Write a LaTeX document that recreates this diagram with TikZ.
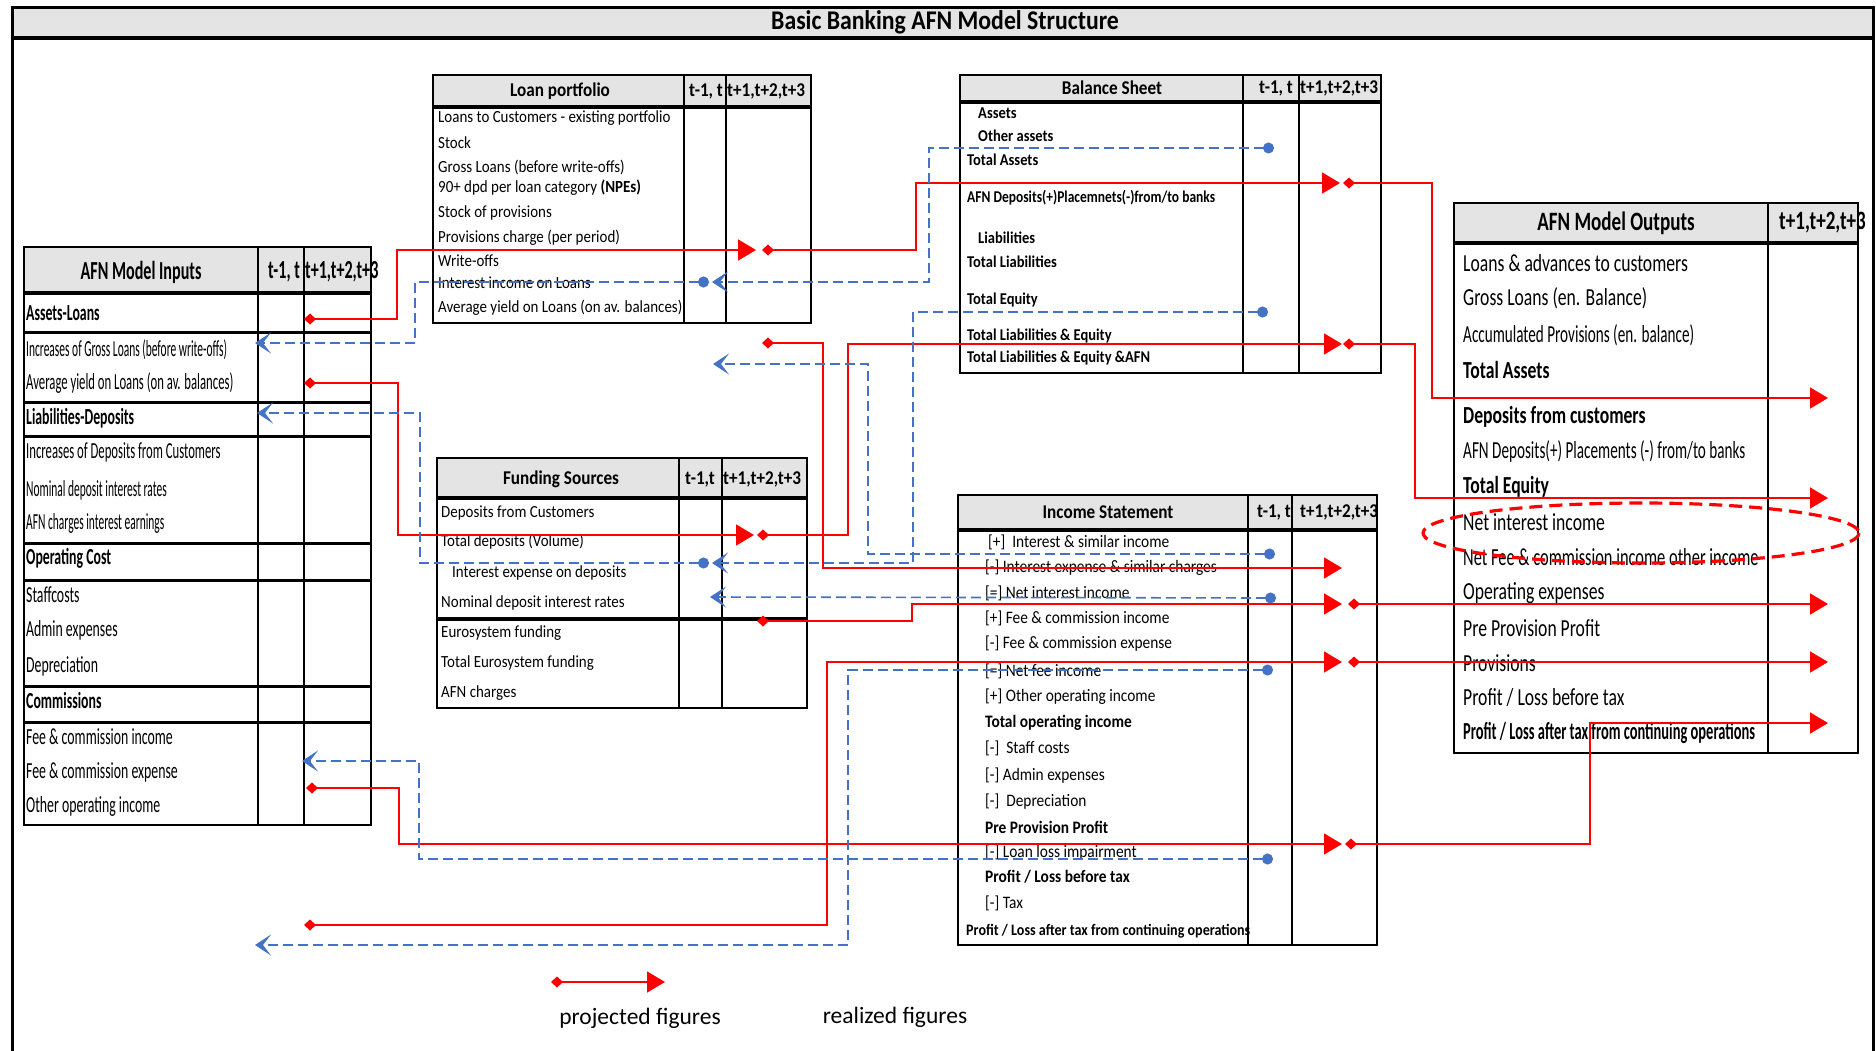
\documentclass[tikz,border=0pt]{standalone}
\usepackage{fontspec}
\setmainfont{Carlito}
\newfontfamily\tabfont[FakeStretch=0.88]{Carlito}
\newfontfamily\infont[FakeStretch=0.6]{Carlito}
\newfontfamily\inhfont[FakeStretch=0.62]{Carlito}
\newfontfamily\outfont[FakeStretch=0.72]{Carlito}
\usetikzlibrary{arrows.meta}
\definecolor{projred}{RGB}{255,0,0}
\definecolor{realblue}{RGB}{68,114,196}
\definecolor{hdrgray}{RGB}{228,228,228}

\begin{document}
\begin{tikzpicture}[
			x=1pt, y=-1pt,
			tbl/.style={draw, line width=2.6pt},
			sep/.style={line width=3pt},
			colline/.style={line width=2.3pt},
			hd/.style={inner sep=0pt, font=\tabfont\bfseries\fontsize{19.5}{20}\selectfont},
			tcol/.style={hd, anchor=west},
			item/.style={anchor=west, inner sep=0pt, font=\tabfont\fontsize{17}{18}\selectfont},
			isitem/.style={item, font=\tabfont\fontsize{17.5}{18}\selectfont},
			isbold/.style={item, font=\tabfont\bfseries\fontsize{17.5}{18}\selectfont},
			bsitem/.style={item, font=\tabfont\bfseries\fontsize{16.5}{17}\selectfont},
			initem/.style={item, font=\infont\fontsize{23}{24}\selectfont},
			inbold/.style={item, font=\infont\bfseries\fontsize{23}{24}\selectfont},
			inhd/.style={inner sep=0pt, font=\inhfont\bfseries\fontsize{26}{26}\selectfont},
			outitem/.style={item, font=\outfont\fontsize{24.5}{25}\selectfont},
			outbold/.style={item, font=\outfont\bfseries\fontsize{24.5}{25}\selectfont},
			outhd/.style={inner sep=0pt, font=\outfont\bfseries\fontsize{26.5}{27}\selectfont},
			proj/.style={projred, line width=1.6pt,
					{Diamond[length=12pt,width=11pt]}-{Triangle[length=18pt,width=21pt]}},
			real/.style={realblue, line width=1.6pt, dash pattern=on 10pt off 5pt,
					{Circle[length=11pt]}-{Stealth[length=16pt,width=21pt,inset=8pt]}}
		]
		\useasboundingbox (0,0) rectangle (1876,1050);

		% frame and title
		\fill[hdrgray] (12,7) rectangle (1873,38);
		\draw[line width=3pt] (12,1052) -- (12,7) -- (1873,7) -- (1873,1052);
		\draw[line width=4pt] (12,38) -- (1873,38);
		\node[inner sep=0pt, font=\tabfont\bfseries\fontsize{27}{27}\selectfont] (title) at (945,22)
		{Basic Banking AFN Model Structure};

		% AFN Model Inputs
		\fill[hdrgray] (24,247) rectangle (371,293);
		\draw[tbl] (24,247) rectangle (371,825);
		\draw[line width=4pt] (24,293) -- (371,293);
		\draw[sep] (24,332) -- (371,332) (24,402) -- (371,402) (24,436) -- (371,436)
		(24,543) -- (371,543) (24,580) -- (371,580) (24,686) -- (371,686) (24,722) -- (371,722);
		\draw[colline] (258,247) -- (258,825) (304,247) -- (304,825);
		\node[inhd] (inHead) at (141,272) {AFN Model Inputs};
		\node[inhd, anchor=west] (inT0) at (268,272) {t-1, t};
		\node[inhd, anchor=west] (inT1) at (305,272) {t+1,t+2,t+3};
		\node[inbold] (inLoansTxt) at (26,313) {Assets-Loans};
		\node[initem] (inGrossTxt) at (26,350) {\scalebox{0.83}[1]{Increases of Gross Loans (before write-offs)}};
		\node[initem] (inYieldTxt) at (26,383) {\scalebox{0.92}[1]{Average yield on Loans (on av. balances)}};
		\node[inbold] (inLiabTxt) at (26,418) {Liabilities-Deposits};
		\node[initem] (inDepTxt) at (26,452) {\scalebox{0.92}[1]{Increases of Deposits from Customers}};
		\node[initem] (inRateTxt) at (26,490) {\scalebox{0.83}[1]{Nominal deposit interest rates}};
		\node[initem] (inAfnTxt) at (26,523) {\scalebox{0.83}[1]{AFN charges interest earnings}};
		\node[inbold] (inOpTxt) at (26,558) {Operating Cost};
		\node[initem] (inStaffTxt) at (26,595) {Staffcosts};
		\node[initem] (inAdminTxt) at (26,630) {Admin expenses};
		\node[initem] (inDeprTxt) at (26,666) {Depreciation};
		\node[inbold] (inComTxt) at (26,701) {Commissions};
		\node[initem] (inFeeIncTxt) at (26,737) {Fee \& commission income};
		\node[initem] (inFeeExpTxt) at (26,772) {Fee \& commission expense};
		\node[initem] (inOtherTxt) at (26,806) {Other operating income};

		% Loan portfolio
		\fill[hdrgray] (433,75) rectangle (811,107);
		\draw[tbl] (433,75) rectangle (811,323);
		\draw[line width=4pt] (433,107) -- (811,107);
		\draw[colline] (684,75) -- (684,323) (726,75) -- (726,323);
		\node[hd] (lpHead) at (560,91) {Loan portfolio};
		\node[tcol] (lpT0) at (689,91) {t-1, t};
		\node[tcol] (lpT1) at (727,91) {t+1,t+2,t+3};
		\node[item] (lpExist) at (438,118) {Loans to Customers - existing portfolio};
		\node[item] (lpStock) at (438,143) {Stock};
		\node[item] (lpGross) at (438,167) {Gross Loans (before write-offs)};
		\node[item] (lpNpe) at (438,188) {90+ dpd per loan category \textbf{(NPEs)}};
		\node[item] (lpProvStock) at (438,213) {Stock of provisions};
		\node[item] (lpProvCharge) at (438,238) {Provisions charge (per period)};
		\node[item] (lpWrite) at (438,261) {Write-offs};
		\node[item] (lpInt) at (438,283) {Interest income on Loans};
		\node[item] (lpYield) at (438,308) {Average yield on Loans (on av. balances)};

		% Funding Sources
		\fill[hdrgray] (437,458) rectangle (807,498);
		\draw[tbl] (437,458) rectangle (807,708);
		\draw[line width=4pt] (437,498) -- (807,498);
		\draw[line width=3.5pt] (437,619) -- (807,619);
		\draw[colline] (679,458) -- (679,708) (722,458) -- (722,708);
		\node[hd] (fsHead) at (561,479) {Funding Sources};
		\node[tcol] (fsT0) at (685,479) {t-1,t};
		\node[tcol] (fsT1) at (723,479) {t+1,t+2,t+3};
		\node[item] (fsDep) at (441,513) {Deposits from Customers};
		\node[item] (fsTot) at (441,542) {Total deposits (Volume)};
		\node[item] (fsInt) at (452,573) {Interest expense on deposits};
		\node[item] (fsNom) at (441,603) {Nominal deposit interest rates};
		\node[item] (fsEuro) at (441,633) {Eurosystem funding};
		\node[item] (fsEuroTot) at (441,663) {Total Eurosystem funding};
		\node[item] (fsAfn) at (441,693) {AFN charges};

		% Balance Sheet
		\fill[hdrgray] (960,75) rectangle (1381,102);
		\draw[tbl] (960,75) rectangle (1381,373);
		\draw[line width=4pt] (960,102) -- (1381,102);
		\draw[colline] (1243,75) -- (1243,373) (1299,75) -- (1299,373);
		\node[hd] (bsHead) at (1112,88) {Balance Sheet};
		\node[tcol] (bsT0) at (1259,88) {t-1, t};
		\node[tcol] (bsT1) at (1300,88) {t+1,t+2,t+3};
		\node[bsitem] (bsAssets) at (978,113) {Assets};
		\node[bsitem] (bsOther) at (978,136) {Other assets};
		\node[bsitem] (bsTotA) at (967,160) {Total Assets};
		\node[bsitem] (bsAfn) at (967,198) {\scalebox{0.93}[1]{AFN Deposits(+)Placemnets(-)from/to banks}};
		\node[bsitem] (bsLiab) at (978,238) {Liabilities};
		\node[bsitem] (bsTotL) at (967,262) {Total Liabilities};
		\node[bsitem] (bsTotE) at (967,300) {Total Equity};
		\node[bsitem] (bsTotLE) at (967,336) {Total Liabilities \& Equity};
		\node[bsitem] (bsTotLEA) at (967,358) {Total Liabilities \& Equity \&AFN};

		% Income Statement
		\fill[hdrgray] (958,495) rectangle (1377,530);
		\draw[tbl] (958,495) rectangle (1377,945);
		\draw[line width=4pt] (958,530) -- (1377,530);
		\draw[colline] (1248,495) -- (1248,945) (1292,495) -- (1292,945);
		\node[hd] (isHead) at (1108,512) {Income Statement};
		\node[tcol] (isT0) at (1257,512) {t-1, t};
		\node[tcol] (isT1) at (1300,512) {t+1,t+2,t+3};
		\node[isitem] (isIntInc) at (988,542) {[+]\ \ Interest \& similar income};
		\node[isitem] (isIntExp) at (985,568) {[-] Interest expense \& similar charges};
		\node[isitem] (isNii) at (985,593) {[=] Net interest income};
		\node[isitem] (isFeeInc) at (985,618) {[+] Fee \& commission income};
		\node[isitem] (isFeeExp) at (985,644) {[-] Fee \& commission expense};
		\node[isitem] (isNfi) at (985,671) {[=] Net fee income};
		\node[isitem] (isOther) at (985,697) {[+] Other operating income};
		\node[isbold] (isTotOp) at (985,723) {Total operating income};
		\node[isitem] (isStaff) at (985,748) {[-]\ \ Staff costs};
		\node[isitem] (isAdmin) at (985,776) {[-] Admin expenses};
		\node[isitem] (isDepr) at (985,802) {[-]\ \ Depreciation};
		\node[isbold] (isPpp) at (985,827) {Pre Provision Profit};
		\node[isitem] (isLli) at (985,853) {[-] Loan loss impairment};
		\node[isbold] (isPbt) at (985,877) {Profit / Loss before tax};
		\node[isitem] (isTax) at (985,903) {[-] Tax};
		\node[isbold, font=\tabfont\bfseries\fontsize{16}{17}\selectfont] (isPat) at (966,931)
		{Profit / Loss after tax from continuing operations};

		% AFN Model Outputs
		\fill[hdrgray] (1454,203) rectangle (1858,243);
		\draw[tbl] (1454,203) rectangle (1858,753);
		\draw[line width=4pt] (1454,243) -- (1858,243);
		\draw[colline] (1768,203) -- (1768,753);
		\node[outhd] (outHead) at (1616,223) {AFN Model Outputs};
		\node[outhd, anchor=west] (outT1) at (1779,223) {t+1,t+2,t+3};
		\node[outitem] (outLoans) at (1463,263) {Loans \& advances to customers};
		\node[outitem] (outGross) at (1463,298) {Gross Loans (en. Balance)};
		\node[outitem] (outAcc) at (1463,335) {\scalebox{0.86}[1]{Accumulated Provisions (en. balance)}};
		\node[outbold] (outTA) at (1463,370) {Total Assets};
		\node[outbold] (outDep) at (1463,417) {Deposits from customers};
		\node[outitem] (outAfn) at (1463,452) {\scalebox{0.86}[1]{AFN Deposits(+) Placements (-) from/to banks}};
		\node[outbold] (outTE) at (1463,487) {Total Equity};
		\node[outitem] (outNii) at (1463,522) {Net interest income};
		\node[outitem] (outNfi) at (1463,557) {\scalebox{0.93}[1]{Net Fee \& commission income other income}};
		\node[outitem] (outOpex) at (1463,593) {Operating expenses};
		\node[outitem] (outPpp) at (1463,628) {Pre Provision Profit};
		\node[outitem] (outProv) at (1463,663) {Provisions};
		\node[outitem] (outPbt) at (1463,698) {Profit / Loss before tax};
		\node[outbold] (outPat) at (1463,733) {\scalebox{0.82}[1]{Profit / Loss after tax from continuing operations}};
		\draw[projred, line width=3.2pt, dash pattern=on 13pt off 7pt] (1641,533) ellipse (218 and 30);

		% end points of the connectors
		\coordinate (inLoanOut) at (304,319);
		\coordinate (inYieldOut) at (304,383);
		\coordinate (inOtherOut) at (306,788);
		\coordinate (freeA) at (762,343);
		\coordinate (freeB) at (304,925);
		\coordinate (lpIn) at (756,250);
		\coordinate (lpOut) at (762,250);
		\coordinate (fsIn) at (754,535);
		\coordinate (fsOut) at (757,535);
		\coordinate (fsOutB) at (757,621);
		\coordinate (bsAIn) at (1340,183);
		\coordinate (bsAOut) at (1343,183);
		\coordinate (bsEIn) at (1342,344);
		\coordinate (bsEOut) at (1343,344);
		\coordinate (isExpIn) at (1342,568);
		\coordinate (isNiiIn) at (1342,604);
		\coordinate (isNiiOut) at (1348,604);
		\coordinate (isFeeIn) at (1342,662);
		\coordinate (isFeeOut) at (1348,662);
		\coordinate (isLliIn) at (1342,844);
		\coordinate (isLliOut) at (1345,844);
		\coordinate (outTAIn) at (1828,398);
		\coordinate (outTEIn) at (1828,498);
		\coordinate (outOpexIn) at (1828,604);
		\coordinate (outProvIn) at (1828,662);
		\coordinate (outPatIn) at (1828,723);

		\coordinate (bsTADot) at (1274,148);
		\coordinate (bsTEDot) at (1268,312);
		\coordinate (lpIntDot) at (709,282);
		\coordinate (fsIntDot) at (709,563);
		\coordinate (isIntDot) at (1275,554);
		\coordinate (isNiiDot) at (1276,598);
		\coordinate (isNfiDot) at (1273,670);
		\coordinate (isLliDot) at (1273,859);
		\coordinate (lpIntIn) at (712,282);
		\coordinate (fsIntIn) at (712,563);
		\coordinate (fsNomIn) at (710,597);
		\coordinate (inGrossIn) at (255,343);
		\coordinate (inLiabIn) at (257,413);
		\coordinate (inFeeIn) at (302,761);
		\coordinate (freeC) at (713,364);
		\coordinate (freeD) at (255,945);

		% projected figures
		\draw[proj] (inLoanOut) -- (397,319) -- (397,250) -- (lpIn);
		\draw[proj] (lpOut) -- (916,250) -- (916,183) -- (bsAIn);
		\draw[proj] (bsAOut) -- (1432,183) -- (1432,398) -- (outTAIn);
		\draw[proj] (inYieldOut) -- (398,383) -- (398,535) -- (fsIn);
		\draw[proj] (fsOut) -- (848,535) -- (848,344) -- (bsEIn);
		\draw[proj] (bsEOut) -- (1415,344) -- (1415,498) -- (outTEIn);
		\draw[proj] (freeA) -- (823,343) -- (823,568) -- (isExpIn);
		\draw[proj] (fsOutB) -- (912,621) -- (912,604) -- (isNiiIn);
		\draw[proj] (isNiiOut) -- (outOpexIn);
		\draw[proj] (freeB) -- (827,925) -- (827,662) -- (isFeeIn);
		\draw[proj] (isFeeOut) -- (outProvIn);
		\draw[proj] (inOtherOut) -- (399,788) -- (399,844) -- (isLliIn);
		\draw[proj] (isLliOut) -- (1590,844) -- (1590,723) -- (outPatIn);

		% realized figures
		\draw[real] (bsTADot) -- (929,148) -- (929,282) -- (lpIntIn);
		\draw[real] (lpIntDot) -- (415,282) -- (415,343) -- (inGrossIn);
		\draw[real] (bsTEDot) -- (913,312) -- (913,563) -- (fsIntIn);
		\draw[real] (fsIntDot) -- (420,563) -- (420,413) -- (inLiabIn);
		\draw[real] (isIntDot) -- (868,554) -- (868,364) -- (freeC);
		\draw[real] (isNiiDot) -- (fsNomIn);
		\draw[real] (isNfiDot) -- (848,670) -- (848,945) -- (freeD);
		\draw[real] (isLliDot) -- (419,859) -- (419,761) -- (inFeeIn);

		% legend
		\coordinate (legStart) at (551,982);
		\coordinate (legEnd) at (665,982);
		\draw[proj] (legStart) -- (legEnd);
		\node[inner sep=0pt, font=\fontsize{23.5}{24}\selectfont] (legProj) at (640,1018) {projected figures};
		\node[inner sep=0pt, font=\fontsize{23.5}{24}\selectfont] (legReal) at (895,1017) {realized figures};

	\end{tikzpicture}
\end{document}
